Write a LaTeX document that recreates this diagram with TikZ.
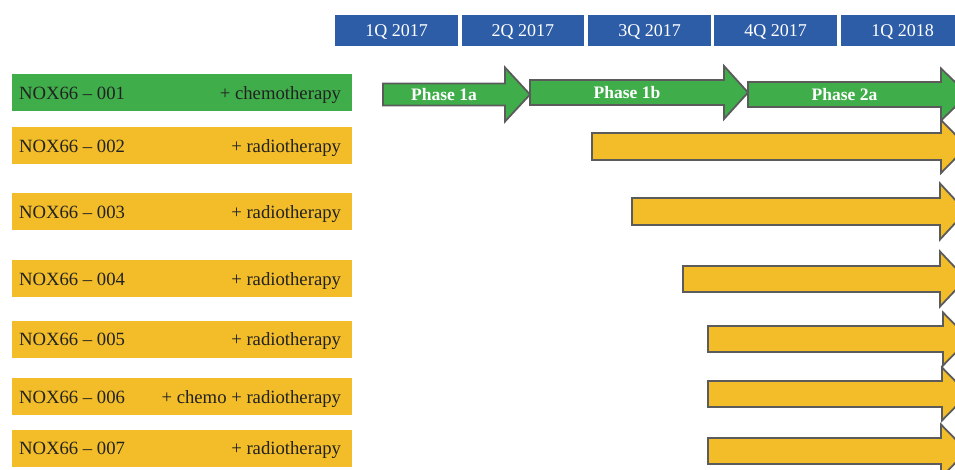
\documentclass[tikz,border=0pt]{standalone}
\usepackage{fontspec}
\setmainfont{Liberation Serif}
\definecolor{hdrblue}{HTML}{2E5DA8}
\definecolor{grn}{HTML}{3FAE4A}
\definecolor{ylw}{HTML}{F2BD28}
\definecolor{edgegray}{HTML}{5B5B5B}
\definecolor{ink}{HTML}{222222}
\tikzset{
  hdr/.style={fill=hdrblue, text=white, minimum height=31pt, inner sep=0pt, text height=12.5pt, text depth=0pt, font=\fontsize{18}{20}\selectfont},
  lbl/.style={minimum width=340pt, minimum height=37pt, inner sep=0pt},
  lbltext/.style={text=ink, font=\fontsize{18.7}{20}\selectfont, inner sep=0pt, text height=12.5pt, text depth=0pt},
  arr/.style={draw=edgegray, line width=1.8pt, line join=miter},
  phase/.style={text=white, inner sep=0pt, text height=12pt, text depth=0pt, font=\bfseries\fontsize{17.5}{20}\selectfont},
}
% #1 fill, #2 tail x, #3 head base x, #4 tip x, #5 centre y, #6 body half, #7 head half
\newcommand\blockarr[7]{\draw[arr,fill=#1] (#2,#5-#6) -- (#3,#5-#6) -- (#3,#5-#7) -- (#4,#5) -- (#3,#5+#7) -- (#3,#5+#6) -- (#2,#5+#6) -- cycle;}
\begin{document}
\begin{tikzpicture}[x=1pt,y=-1pt]
\useasboundingbox (0,0) rectangle (955,470);
\clip (0,0) rectangle (955,470);
% header
\node[hdr, minimum width=123pt] (q1) at (396.5,30.5) {1Q 2017};
\node[hdr, minimum width=122.5pt] (q2) at (522.8,30.5) {2Q 2017};
\node[hdr, minimum width=123pt] (q3) at (649.5,30.5) {3Q 2017};
\node[hdr, minimum width=123pt] (q4) at (775.5,30.5) {4Q 2017};
\node[hdr, minimum width=123pt] (q5) at (902.5,30.5) {1Q 2018};
% labels
\node[lbl, fill=grn] (r1) at (182,92.5) {};
\node[lbl, fill=ylw] (r2) at (182,145.5) {};
\node[lbl, fill=ylw] (r3) at (182,211.5) {};
\node[lbl, fill=ylw] (r4) at (182,278.5) {};
\node[lbl, fill=ylw] (r5) at (182,339) {};
\node[lbl, fill=ylw] (r6) at (182,396.5) {};
\node[lbl, fill=ylw] (r7) at (182,448) {};
\foreach \r/\n/\t in {r1/001/+ chemotherapy, r2/002/+ radiotherapy, r3/003/+ radiotherapy, r4/004/+ radiotherapy, r5/005/+ radiotherapy, r6/006/+ chemo + radiotherapy, r7/007/+ radiotherapy}{
  \node[lbltext, anchor=west] (\r l) at ([xshift=7pt,yshift=-0.5pt]\r.west) {NOX66 -- \n};
  \node[lbltext, anchor=east] (\r t) at ([xshift=-11pt,yshift=-0.5pt]\r.east) {\t};
}
% yellow arrows
\blockarr{ylw}{592}{941}{967}{146.5}{13.5}{26.5}
\blockarr{ylw}{632}{940}{966}{211.5}{13.5}{28}
\blockarr{ylw}{683}{940}{966}{279}{13}{27.5}
\blockarr{ylw}{708}{943}{969}{339}{13}{26.5}
\blockarr{ylw}{708}{942}{968}{394}{13}{26.5}
\blockarr{ylw}{708}{941}{967}{451}{13}{26.5}
% green phase arrows
\blockarr{grn}{748}{941}{968}{94.5}{12.5}{26}
\blockarr{grn}{530}{724}{748}{92.5}{12.5}{26.5}
\blockarr{grn}{383}{505}{530}{94.5}{11}{27}
\node[phase] (p1) at (444,94.5) {Phase 1a};
\node[phase] (p2) at (627,92.5) {Phase 1b};
\node[phase] (p3) at (844.5,94.5) {Phase 2a};
\end{tikzpicture}
\end{document}
